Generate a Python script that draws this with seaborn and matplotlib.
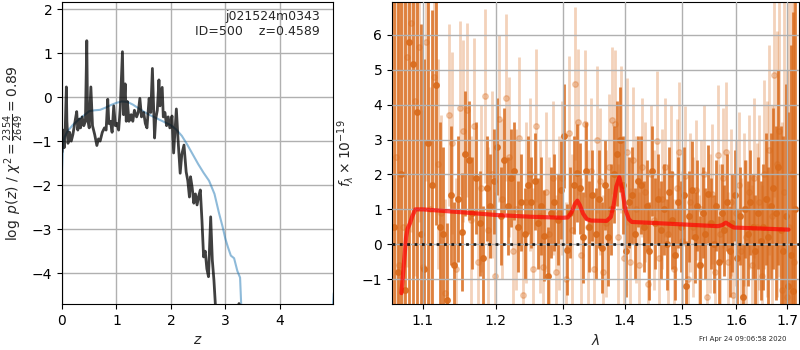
"""Redshift fit summary: p(z) on the left, 1D spectrum + model on the right."""
import numpy as np
import pandas as pd
import matplotlib
matplotlib.use('Agg')
import matplotlib.pyplot as plt
from matplotlib.ticker import NullLocator
import seaborn as sns

# ---- left panel: log p(z) ----
z_pz = [0.00, 0.02, 0.04, 0.06, 0.08, 0.09, 0.11, 0.14, 0.17, 0.20, 0.24, 0.27, 0.29, 0.32,
        0.34, 0.37, 0.40, 0.43, 0.455, 0.47, 0.50, 0.53, 0.56, 0.60, 0.64, 0.67, 0.70, 0.74,
        0.78, 0.81, 0.84, 0.86, 0.89, 0.92, 0.95, 0.98, 1.01, 1.04, 1.07, 1.11, 1.13, 1.16,
        1.18, 1.20, 1.23, 1.27, 1.30, 1.33, 1.37, 1.40, 1.43, 1.46, 1.50, 1.53, 1.56, 1.60,
        1.63, 1.66, 1.70, 1.72, 1.75, 1.78, 1.80, 1.84, 1.86, 1.89, 1.92, 1.95, 1.98, 2.02,
        2.05, 2.10, 2.13, 2.17, 2.20, 2.24, 2.28, 2.31, 2.34, 2.36, 2.39, 2.42, 2.45, 2.48,
        2.51, 2.54, 2.57, 2.60, 2.63, 2.66, 2.69, 2.73, 2.76, 2.79, 2.83]
logpz = [-1.25, -0.75, -1.15, -0.70, 0.23, -0.55, -1.05, -0.80, -1.00, -0.85, -0.55, -0.33,
         -0.75, -0.50, -0.70, -0.45, -0.65, -0.55, 1.28, -0.50, -0.70, 0.23, -0.65, -0.85,
         -1.10, -0.95, -1.00, -0.80, -0.70, -0.75, -0.05, -0.60, -0.55, -0.80, -0.20, -0.65,
         -0.60, -0.75, -0.25, 1.03, -0.40, 0.30, -0.55, -0.10, -0.55, -0.40, -0.55, -0.30,
         -0.45, -0.35, -0.03, -0.45, -0.35, -0.60, -0.70, -0.03, -0.35, 0.65, -0.93, -0.50,
         -0.30, 0.39, -0.20, 0.22, -0.45, -0.35, -0.65, -0.45, -0.70, -0.43, -1.27, -0.27,
         -0.95, -1.73, -1.30, -1.09, -1.70, -1.90, -2.27, -1.81, -2.05, -2.41, -2.20, -2.45,
         -2.25, -2.11, -2.80, -3.63, -3.50, -3.90, -4.08, -2.72, -3.70, -4.16, -5.00]
z_tail = [3.20, 3.25, 3.29]
logpz_tail = [-4.90, -4.69, -4.90]

z_prior = [0.00, 0.02, 0.05, 0.10, 0.20, 0.30, 0.40, 0.50, 0.60, 0.70, 0.80, 0.90, 1.00,
           1.10, 1.20, 1.30, 1.40, 1.50, 1.60, 1.70, 1.80, 1.90, 2.00, 2.10, 2.20, 2.30,
           2.40, 2.50, 2.60, 2.70, 2.80, 2.88, 2.95, 3.00, 3.05, 3.10, 3.16, 3.22, 3.27,
           3.30, 4.96, 4.99]
logp_prior = [-1.66, -1.05, -0.90, -0.78, -0.63, -0.52, -0.42, -0.32, -0.30, -0.29, -0.24,
              -0.18, -0.13, -0.10, -0.11, -0.17, -0.25, -0.33, -0.40, -0.46, -0.52, -0.58,
              -0.64, -0.74, -0.88, -1.08, -1.30, -1.52, -1.72, -1.90, -2.20, -2.62, -2.95,
              -3.22, -3.42, -3.60, -3.66, -3.95, -4.10, -5.00, -5.00, -4.45]

obj_name = "j021524m0343"
obj_id = 500
z_best = 0.4589
chi2_num, chi2_den = 2354, 2649

# ---- right panel: spectrum ----
wave_a = np.round(np.arange(1.062, 1.7171, 0.005), 4)    # darker beam
flux_a = [0.5, -0.8, 2.0, -1.3, 5.8, 5.15, 3.8, 0.3, -0.7, 2.9, 1.7, 4.55, 0.5, 0.3,
          -1.6, 1.4, -0.6, 1.3, 0.35, 2.6, 2.4, 0.9, 1.9, 0.6, -0.4, 1.6, 1.1, 1.8,
          2.8, 0.8, 2.4, 1.1, 1.9, 2.1, 0.5, 1.2, 0.3, 1.7, 1.2, 1.8, 0.6, 1.1,
          0.25, -0.9, 0.9, 1.2, 0.7, 1.55, 3.1, -0.15, 0.9, 1.7, 2.05, 1.6, 0.2, 2.1,
          0.5, 1.4, 0.3, 1.3, -0.1, 1.7, 0.2, 1.0, 2.0, 2.6, 3.0, 1.7, -0.2, 1.2,
          1.4, 0.3, 1.8, 1.7, 0.5, 1.1, -0.2, 2.1, 0.6, 1.3, 0.4, 1.0, 0.0, 1.5,
          0.7, -0.3, 1.2, 0.5, 1.4, -1.2, 0.8, 1.55, 0.2, 1.1, -0.6, 0.9, 0.3, 1.45,
          0.6, 0.0, 1.1, -0.5, 0.9, 0.4, 1.2, -0.2, 0.6, 1.4, -0.4, 0.8, -1.5, 1.0,
          0.3, 1.2, 0.5, -0.2, 0.9, 0.1, 0.5, 1.3, 0.2, 1.1, 1.6, 0.9, 2.2, 0.4,
          -0.2, 0.8, -1.2, -0.3, -1.35, 1.0]
err_a = [9, 9, 9, 9, 8, 8, 7, 6, 6, 5, 5, 4, 3, 2.5,
         2.2, 2.0, 1.8, 1.8, 1.7, 1.8, 1.7, 1.6, 1.6, 1.5, 1.5, 1.5, 1.5, 1.5,
         1.4, 1.4, 1.5, 1.4, 1.4, 1.4, 1.3, 1.4, 1.3, 1.4, 1.3, 1.4, 1.3, 1.4,
         1.3, 1.4, 1.3, 1.4, 1.3, 1.4, 1.5, 1.3, 1.3, 1.4, 1.4, 1.3, 1.3, 1.4,
         1.3, 1.3, 1.3, 1.4, 1.3, 1.3, 1.4, 1.3, 1.4, 1.5, 1.5, 1.4, 1.3, 1.3,
         1.4, 1.3, 1.3, 1.4, 1.3, 1.3, 1.4, 1.3, 1.3, 1.3, 1.4, 1.3, 1.3, 1.3,
         1.4, 1.3, 1.3, 1.3, 1.4, 1.3, 1.3, 1.4, 1.3, 1.3, 1.4, 1.3, 1.3, 1.4,
         1.3, 1.4, 1.3, 1.3, 1.4, 1.3, 1.4, 1.3, 1.4, 1.3, 1.4, 1.4, 1.5, 1.4,
         1.5, 1.5, 1.5, 1.6, 1.6, 1.7, 1.8, 1.9, 2.0, 2.1, 2.3, 2.5, 2.8, 3.0,
         3.3, 3.8, 5, 6, 8, 10]

wave_b = np.round(np.arange(1.0645, 1.7146, 0.005), 4)   # lighter beam
flux_b = [2.5, -0.6, 0.5, 5.35, 6.35, 4.1, 5.65, -0.65, 5.8, 1.0, 4.8, 2.3, 0.9, -1.4,
          3.7, 2.9, -0.7, 3.9, 3.25, 3.85, 0.7, 3.4, -0.5, 1.6, 4.25, 0.4, 2.0, -0.9,
          3.6, 1.3, 4.2, 2.5, -0.2, 1.0, 3.05, -1.45, 1.2, 2.0, -0.7, 3.4, 0.8, -0.65,
          1.5, 0.3, 1.9, -0.8, 0.9, 1.9, -1.0, 3.2, 0.4, 4.6, 3.5, -0.3, 3.45, 0.5,
          2.1, -0.7, 3.0, 1.8, -0.8, 0.6, 2.2, 3.55, 3.45, 0.2, 3.0, -0.4, 2.65, -0.5,
          2.4, 1.0, -0.6, 2.2, 1.5, -1.15, 2.0, 0.7, 2.95, -0.4, 1.3, 2.2, 0.3, 2.0,
          -0.7, 1.6, 2.65, 0.1, 1.95, -1.0, 1.2, 0.5, 1.55, -0.6, 1.0, 2.0, -1.5, 0.6,
          1.45, -0.8, 2.55, 0.3, 1.9, 2.65, -0.5, 1.2, -1.45, 0.9, 1.7, -0.2, 1.0, 0.2,
          1.5, -0.6, 1.9, 0.5, 1.2, -0.9, 2.0, 1.3, 2.7, 0.8, 4.85, 2.3, 3.25, -1.3,
          1.5, -1.5, 0.5, 2.0, -0.5]
err_b = [9, 8, 7, 6, 6, 5, 5, 4.5, 4, 3.5, 3.2, 3.0, 2.8, 2.7,
         2.6, 2.6, 2.6, 2.5, 2.6, 2.5, 2.4, 2.5, 2.4, 2.4, 2.5, 2.4, 2.4, 2.4,
         2.4, 2.3, 2.4, 2.3, 2.3, 2.3, 2.3, 2.3, 2.3, 2.2, 2.3, 2.2, 2.2, 2.2,
         2.3, 2.2, 2.2, 2.2, 2.2, 2.2, 2.2, 2.2, 2.2, 2.2, 2.1, 2.2, 2.1, 2.2,
         2.1, 2.2, 2.1, 2.1, 2.2, 2.1, 2.1, 2.1, 2.1, 2.1, 2.1, 2.1, 2.1, 2.1,
         2.1, 2.1, 2.1, 2.0, 2.0, 2.1, 2.0, 2.0, 2.0, 2.0, 2.0, 2.0, 2.0, 2.0,
         2.0, 2.0, 2.0, 2.0, 2.0, 2.0, 2.0, 2.0, 2.0, 2.0, 2.0, 2.0, 2.0, 2.0,
         2.0, 2.0, 2.0, 2.0, 2.0, 2.0, 2.0, 2.1, 2.1, 2.1, 2.1, 2.1, 2.2, 2.2,
         2.2, 2.3, 2.3, 2.4, 2.5, 2.6, 2.7, 2.8, 3.0, 3.2, 3.5, 3.8, 4.2, 4.8,
         5.5, 6.5, 7.5, 8.5, 9.5]

wave_model = [1.072, 1.075, 1.078, 1.080, 1.083, 1.086, 1.090, 1.100, 1.150, 1.200,
              1.250, 1.300, 1.308, 1.314, 1.319, 1.323, 1.327, 1.332, 1.338, 1.345, 1.370,
              1.377, 1.382, 1.386, 1.391, 1.396, 1.401, 1.407, 1.412, 1.450, 1.500, 1.550,
              1.565, 1.573, 1.580, 1.587, 1.595, 1.650, 1.703]
flux_model = [-1.4, -0.6, 0.2, 0.45, 0.6, 0.8, 1.0, 1.0, 0.92, 0.84,
              0.79, 0.76, 0.77, 0.92, 1.15, 1.25, 1.12, 0.88, 0.72, 0.68, 0.67,
              0.78, 1.15, 1.65, 1.92, 1.55, 1.0, 0.72, 0.64, 0.61, 0.57, 0.53,
              0.52, 0.55, 0.62, 0.55, 0.48, 0.45, 0.42]

sns.set_style("ticks")
plt.rcParams['font.family'] = ['DejaVu Sans']
plt.rcParams['axes.edgecolor'] = 'k'
plt.rcParams['xtick.color'] = 'k'
plt.rcParams['ytick.color'] = 'k'

fig = plt.figure(figsize=(8, 3.5), dpi=100)
ax1 = fig.add_axes([0.0775, 0.1314, 0.339, 0.863])
ax2 = fig.add_axes([0.49, 0.1314, 0.5088, 0.863])

# left: p(z)
pz_df = pd.DataFrame({"z": z_pz, "logp": logpz})
prior_df = pd.DataFrame({"z": z_prior, "logp": logp_prior})
sns.lineplot(data=prior_df, x="z", y="logp", ax=ax1, color="tab:blue", alpha=0.5,
             lw=1.5, estimator=None, sort=False)
sns.lineplot(data=pz_df, x="z", y="logp", ax=ax1, color="k", alpha=0.75, lw=2,
             estimator=None, sort=False)
sns.lineplot(x=z_tail, y=logpz_tail, ax=ax1, color="k", alpha=0.75, lw=2,
             estimator=None, sort=False)
ax1.set_xlim(0, 4.98)
ax1.set_ylim(-4.7, 2.16)
ax1.set_xticks([0, 1, 2, 3, 4])
ax1.set_yticks([-4, -3, -2, -1, 0, 1, 2])
ax1.grid(True, color='#b0b0b0', lw=1)
ax1.set_xlabel(r'$z$', fontsize=10)
ax1.set_ylabel(r'$\log\ p(z)$' + ' / ' +
               r'$\chi^2=\frac{%d}{%d}=%.2f$' % (chi2_num, chi2_den, chi2_num / chi2_den),
               fontsize=10)
ax1.text(0.95, 0.975, f"{obj_name}\nID={obj_id}    z={z_best:.4f}", transform=ax1.transAxes,
         ha='right', va='top', fontsize=9)

# right: spectrum
c_beam = (0.85, 0.42, 0.11)
ax2.errorbar(wave_b, flux_b, yerr=err_b, fmt='o', color=c_beam, alpha=0.3, ms=4,
             elinewidth=2, capsize=0, zorder=1)
ax2.errorbar(wave_a, flux_a, yerr=err_a, fmt='o', color=c_beam, alpha=0.85, ms=4,
             elinewidth=2, capsize=0, zorder=1.2)
model_df = pd.DataFrame({"wave": wave_model, "flux": flux_model})
sns.lineplot(data=model_df, x="wave", y="flux", ax=ax2, color="r", alpha=0.7, lw=3,
             estimator=None, sort=False, zorder=4)
ax2.axhline(0, color='k', ls=':', lw=2, alpha=0.85, zorder=5)

ax2.set_xscale('log')
ax2.set_xlim(1.06, 1.7245)
ax2.set_ylim(-1.71, 6.94)
xt = [1.1, 1.2, 1.3, 1.4, 1.5, 1.6, 1.7]
ax2.set_xticks(xt)
ax2.set_xticklabels([f"{v:.1f}" for v in xt])
ax2.xaxis.set_minor_locator(NullLocator())
ax2.set_yticks([-1, 0, 1, 2, 3, 4, 5, 6])
ax2.set_axisbelow(False)
ax2.grid(True, color='#b0b0b0', lw=1, zorder=3)
ax2.set_xlabel(r'$\lambda$', fontsize=10)
ax2.set_ylabel(r'$f_\lambda\times10^{-19}$', fontsize=10)

fig.text(0.983, 0.031, "Fri Apr 24 09:06:58 2020", ha='right', va='center', fontsize=5)

fig.savefig("out.png", dpi=100)
